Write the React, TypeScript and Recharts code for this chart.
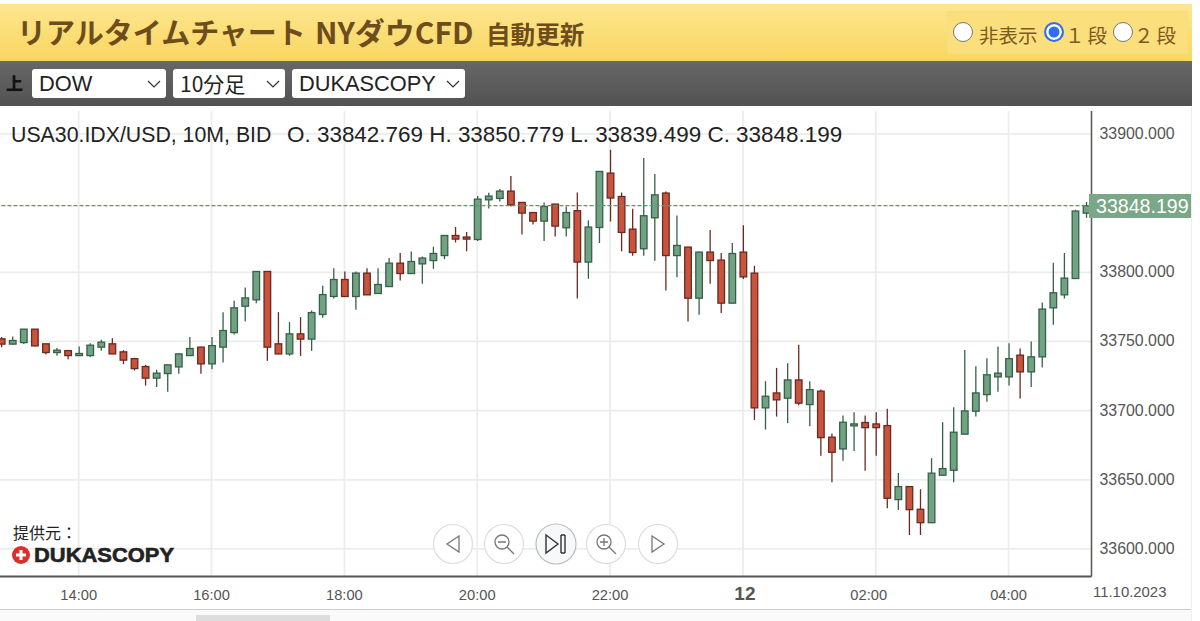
import React from "react";
import { ComposedChart, Bar, XAxis, YAxis, CartesianGrid, ReferenceLine } from "recharts";

const times = ["12:50","13:00","13:10","13:20","13:30","13:40","13:50","14:00","14:10","14:20","14:30","14:40","14:50","15:00","15:10","15:20","15:30","15:40","15:50","16:00","16:10","16:20","16:30","16:40","16:50","17:00","17:10","17:20","17:30","17:40","17:50","18:00","18:10","18:20","18:30","18:40","18:50","19:00","19:10","19:20","19:30","19:40","19:50","20:00","20:10","20:20","20:30","20:40","20:50","21:00","21:10","21:20","21:30","21:40","21:50","22:00","22:10","22:20","22:30","22:40","22:50","23:00","23:10","23:20","23:30","23:40","23:50","00:00","00:10","00:20","00:30","00:40","00:50","01:00","01:10","01:20","01:30","01:40","01:50","02:00","02:10","02:20","02:30","02:40","02:50","03:00","03:10","03:20","03:30","03:40","03:50","04:00","04:10","04:20","04:30","04:40","04:50","05:00","05:10"];
const opens = [33751.9,33748.1,33749.2,33758.9,33748.3,33742,33743.4,33739.8,33739.8,33745.9,33748.3,33742.5,33737.6,33731.9,33723.5,33726.8,33731.6,33739.8,33745.9,33733.8,33745.9,33756.4,33775.5,33780.1,33800.6,33748.3,33741,33755.5,33751.7,33769.5,33782.5,33794.8,33782.5,33799.4,33784.7,33789.7,33806.6,33799.1,33806.1,33808.5,33812.1,33826.6,33825.5,33823.7,33852.4,33853.4,33858.7,33850.5,33843.2,33837,33849.3,33832.2,33844.5,33807.4,33832.4,33871.7,33854.8,33831.2,33817,33839.4,33857.3,33812.1,33818.2,33781.3,33814.6,33808.8,33777.7,33814.6,33799.4,33702,33712.8,33709,33722.2,33704.4,33714.1,33680.8,33672.3,33689,33691.4,33690.4,33689.2,33635.7,33645.1,33628.7,33619,33653.3,33656.9,33683,33699.6,33711.6,33724.4,33724.4,33740.1,33728,33738.9,33774.3,33783.7,33795.5,33842.769];
const highs = [33753.3,33753.6,33759.1,33759.1,33748.3,33745.2,33743.6,33746.3,33748.8,33751.2,33752.4,33743.7,33738.2,33733.1,33729.5,33733.4,33741.4,33753.3,33746.1,33753.3,33771.2,33779.4,33789,33800.7,33800.7,33771.2,33764,33767.6,33772.4,33790.2,33803,33800.6,33800.6,33803,33803,33810.3,33813.9,33815,33811.4,33818.4,33826.8,33832.7,33829.1,33855.1,33857.5,33860.2,33869.6,33850.6,33843.4,33850.5,33849.5,33847.6,33857.7,33837.7,33873,33888.6,33857.7,33845.9,33882.6,33871,33858.4,33841.1,33818.4,33814.8,33830.5,33813.9,33821.1,33834.1,33804.7,33721.3,33730.9,33734.3,33747.6,33721.3,33715.2,33683.4,33696.4,33698.9,33696.4,33698.9,33701.3,33655,33645.2,33643.2,33665.6,33691.6,33702.5,33743.9,33732.1,33737.9,33746.3,33748.8,33744.9,33749.9,33778.1,33806.9,33813.9,33845.2,33850.779];
const lows = [33745.9,33747.6,33748.1,33746.6,33740.5,33739.6,33737.2,33739.6,33738.7,33743.2,33740.8,33733.6,33729,33718.1,33717,33713.6,33726.6,33739.6,33726.6,33730,33734.8,33755,33764.4,33777.7,33736,33740.8,33739.6,33739.6,33743.2,33767.1,33781,33782.3,33772.9,33783.5,33784.4,33789.5,33794.1,33798.9,33791.7,33802.5,33809.5,33821.5,33815.3,33822.6,33846.1,33851.2,33847.6,33827.3,33834.6,33822.6,33825.9,33825.9,33781,33795.3,33821.1,33836.7,33815.3,33811.9,33811.9,33808.3,33786.8,33796.5,33764.4,33769.3,33791.7,33770.5,33777.6,33795.1,33693.3,33686.3,33695.7,33690.9,33703.9,33688.7,33667.3,33648.2,33663.7,33670.9,33656.6,33667.3,33629.4,33628.2,33610.1,33610.1,33618.8,33653.2,33648.2,33682.8,33695.7,33706.5,33713.6,33718.1,33708.7,33717,33731.1,33762,33781,33795.3,33839.499];
const closes = [33748.1,33750.7,33758.9,33746.8,33742,33743.7,33739.8,33741.3,33747.3,33749.5,33741,33736.5,33730.4,33723.5,33727.1,33733.1,33741,33744.9,33733.8,33747,33757.9,33774.3,33781.5,33800.6,33745.9,33741,33755.5,33751.7,33770.9,33783.9,33794.8,33782.5,33799.4,33783.7,33791.2,33806.6,33799.1,33807.8,33810.3,33813.6,33826.6,33824,33824,33852.9,33855.1,33858.7,33848.8,33842.8,33837,33847.6,33833.4,33843.2,33807.4,33832.7,33872.9,33853.7,33828.8,33814.3,33840.9,33856,33812.1,33819.4,33781.3,33814.6,33808.5,33777.7,33813.6,33796.7,33702,33710.4,33707.8,33722.2,33705.4,33715.2,33680.5,33669.9,33691.6,33690.4,33687.7,33687.7,33636.7,33645.1,33628.4,33619,33654.8,33658.1,33684.4,33699.8,33712.8,33725.9,33727.1,33737.6,33728,33738.9,33773.4,33785.2,33795.8,33844.3,33848.199];
const yTicks = [33600, 33650, 33700, 33750, 33800, 33900];
const timeTicks = [7, 19, 31, 43, 55, 67, 79, 91];
const lastPrice = 33848.199;
const infoName = "USA30.IDX/USD, 10M, BID";
const infoOhlc = "O. 33842.769 H. 33850.779 L. 33839.499 C. 33848.199";
const selects = [
  { label: "DOW", left: 32, width: 134 },
  { label: "10分足", left: 173, width: 112 },
  { label: "DUKASCOPY", left: 292, width: 173 },
];

const data = times.map((t, i) => ({
  slot: i,
  time: t,
  open: opens[i],
  high: highs[i],
  low: lows[i],
  close: closes[i],
  range: [lows[i], highs[i]],
}));

const SANS = '"Liberation Sans", Arial, sans-serif';
const CJK = '"Noto Sans CJK JP", sans-serif';
const UP_FILL = "#71a383";
const UP_LINE = "#37604a";
const DOWN_FILL = "#c9543d";
const DOWN_LINE = "#6a2a22";

function Candle(props: any) {
  const { x, y, width, height, payload } = props;
  const h = Math.abs(height);
  const span = payload.high - payload.low;
  const ppu = h / span;
  const up = payload.close >= payload.open;
  const top = y + (payload.high - Math.max(payload.open, payload.close)) * ppu;
  const bottom = y + (payload.high - Math.min(payload.open, payload.close)) * ppu;
  const cx = x + width / 2;
  const line = up ? UP_LINE : DOWN_LINE;
  return (
    <g>
      <line x1={cx} x2={cx} y1={y} y2={y + h} stroke={line} strokeWidth={1.3} />
      <rect
        x={cx - 3.3}
        y={top}
        width={6.6}
        height={Math.max(bottom - top, 1)}
        fill={up ? UP_FILL : DOWN_FILL}
        stroke={line}
        strokeWidth={1.3}
      />
    </g>
  );
}

function TimeTick(props: any) {
  const { x, y, payload } = props;
  const label = times[payload.value];
  const isDay = label === "00:00";
  const nudge = label === "02:00" ? -7 : isDay ? 2 : 0;
  return (
    <text
      x={x + nudge}
      y={y + 15}
      textAnchor="middle"
      fontFamily={SANS}
      fontSize={isDay ? 19 : 14.7}
      fontWeight={isDay ? 700 : 400}
      fill="#555"
    >
      {isDay ? "12" : label}
    </text>
  );
}

function PriceTick(props: any) {
  const { x, y, payload } = props;
  return (
    <text x={x} y={y + 5} fontFamily={SANS} fontSize={15.9} fill="#555">
      {payload.value.toFixed(3)}
    </text>
  );
}

function Chevron({ right }: { right: number }) {
  return (
    <svg width={14} height={8} style={{ position: "absolute", right, top: 11 }}>
      <path d="M1 1 L7 7 L13 1" fill="none" stroke="#333" strokeWidth={1.2} />
    </svg>
  );
}

function NavButtons() {
  const c = { fill: "none", stroke: "#777", strokeWidth: 1.3 };
  return (
    <svg width={280} height={50} style={{ position: "absolute", left: 430, top: 519 }}>
      {[23, 74, 126, 176, 228].map((cx, i) => (
        <circle
          key={cx}
          cx={cx}
          cy={25}
          r={i === 2 ? 20 : 19.5}
          fill={i === 2 ? "#f7f8fa" : "#fff"}
          stroke={i === 2 ? "#bbb" : "#ddd"}
          strokeWidth={1.2}
        />
      ))}
      <path d="M29 17 L17 25 L29 33 Z" {...c} />
      <circle cx={72} cy={23} r={7} {...c} />
      <path d="M68 23 H76 M77 28 L84 35" {...c} />
      <path d="M116 16 L128 25 L116 34 Z M131 16 V34 M135 16 V34 M131 16 H135 M131 34 H135" fill="none" stroke="#333" strokeWidth={1.4} />
      <circle cx={174} cy={23} r={7} {...c} />
      <path d="M170 23 H178 M174 19 V27 M179 28 L186 35" {...c} />
      <path d="M222 17 L234 25 L222 33 Z" {...c} />
    </svg>
  );
}

export default function App() {
  return (
    <div style={{ position: "absolute", left: 0, top: 0, width: 1200, height: 621, overflow: "hidden", background: "#fff" }}>
      {/* title band */}
      <div style={{ position: "absolute", left: 0, top: 4, width: 1192, height: 57, background: "linear-gradient(#fde68f,#f8d660)" }} />
      <div style={{ position: "absolute", left: 17, top: 10, fontFamily: CJK, fontWeight: 700, fontSize: 29, color: "#6e4d1c", whiteSpace: "nowrap", lineHeight: "42px" }}>
        リアルタイムチャート
      </div>
      <div style={{ position: "absolute", left: 315, top: 10, fontFamily: CJK, fontWeight: 700, fontSize: 30, color: "#6e4d1c", whiteSpace: "nowrap", lineHeight: "42px" }}>
        NYダウCFD
      </div>
      <div style={{ position: "absolute", left: 486, top: 12, fontFamily: CJK, fontWeight: 700, fontSize: 24.6, color: "#6e4d1c", whiteSpace: "nowrap", lineHeight: "42px" }}>
        自動更新
      </div>
      <div style={{ position: "absolute", left: 947, top: 11, width: 241, height: 43, border: "1px solid #f6dc85", boxSizing: "border-box", background: "#fbdf7c" }} />
      {[["非表示", 953, 979, 0], ["１段", 1044, 1065, 3], ["２段", 1113, 1134, 3]].map(([t, cx, tx, ls], i) => (
        <React.Fragment key={String(t)}>
          <div
            style={{
              position: "absolute",
              left: Number(cx),
              top: 22,
              width: 20,
              height: 20,
              borderRadius: 10,
              boxSizing: "border-box",
              background: i === 1 ? "#2f6fed" : "#fff",
              border: i === 1 ? "2px solid #2f6fed" : "1.5px solid #777",
              boxShadow: i === 1 ? "inset 0 0 0 2.5px #fff" : undefined,
            }}
          />
          <div style={{ position: "absolute", left: Number(tx), top: 22, fontFamily: CJK, fontSize: 19.5, letterSpacing: Number(ls), color: "#7b5a22", whiteSpace: "nowrap", lineHeight: "26px" }}>
            {t}
          </div>
        </React.Fragment>
      ))}
      {/* tool band */}
      <div style={{ position: "absolute", left: 0, top: 61, width: 1192, height: 45, background: "linear-gradient(#676767,#525252)" }} />
      <div style={{ position: "absolute", left: 6, top: 71, fontFamily: CJK, fontWeight: 900, fontSize: 17, color: "#111", lineHeight: "24px" }}>上</div>
      {selects.map((s) => (
        <div
          key={s.label}
          style={{
            position: "absolute",
            left: s.left,
            top: 69,
            width: s.width,
            height: 29,
            background: "#fff",
            borderRadius: 3,
            fontFamily: s.label.includes("分") ? CJK : SANS,
            fontSize: s.label.includes("分") ? 21 : 21.8,
            lineHeight: "29px",
            paddingLeft: 7,
            boxSizing: "border-box",
            color: "#222",
            whiteSpace: "nowrap",
          }}
        >
          {s.label}
          <Chevron right={5} />
        </div>
      ))}
      {/* chart */}
      <div style={{ position: "absolute", left: 0, top: 110 }}>
        <ComposedChart width={1200} height={500} data={data} margin={{ top: 1, right: 0, bottom: 0, left: 0 }}>
          <CartesianGrid stroke="#ececec" strokeWidth={1.8} horizontalValues={yTicks} verticalValues={timeTicks} />
          <XAxis
            dataKey="slot"
            type="number"
            domain={[-0.109, 98.49]}
            allowDataOverflow
            ticks={timeTicks}
            interval={0}
            height={33.5}
            tick={<TimeTick />}
            tickLine={false}
            axisLine={{ stroke: "#555", strokeWidth: 2 }}
          />
          <YAxis
            orientation="right"
            type="number"
            domain={[33580.1, 33916.6]}
            allowDataOverflow
            ticks={yTicks}
            interval={0}
            width={108.5}
            tick={<PriceTick />}
            tickLine={false}
            axisLine={{ stroke: "#555", strokeWidth: 1.5 }}
          />
          <ReferenceLine y={lastPrice} stroke="#4f9d69" strokeWidth={1.1} strokeDasharray="4 2" />
          <Bar dataKey="range" barSize={8} isAnimationActive={false} shape={<Candle />} />
        </ComposedChart>
      </div>
      {/* overlays */}
      <div style={{ position: "absolute", left: 11, top: 124, fontFamily: SANS, fontSize: 21.3, color: "#222", whiteSpace: "pre", lineHeight: "22px" }}>{infoName}</div>
      <div style={{ position: "absolute", left: 287, top: 124, fontFamily: SANS, fontSize: 22.45, color: "#222", whiteSpace: "pre", lineHeight: "22px" }}>{infoOhlc}</div>
      <div style={{ position: "absolute", left: 1089, top: 194, width: 102, height: 24, background: "#7aa787", color: "#fff", fontFamily: SANS, fontSize: 19.6, lineHeight: "24px", paddingLeft: 7, boxSizing: "border-box", whiteSpace: "nowrap" }}>33848.199</div>
      <div style={{ position: "absolute", left: 13, top: 521, fontFamily: CJK, fontSize: 16, color: "#222", lineHeight: "22px" }}>提供元：</div>
      <svg width={170} height={24} style={{ position: "absolute", left: 10, top: 543 }}>
        <circle cx={11} cy={12} r={9} fill="#d9302c" />
        <path d="M11 7 V17 M6 12 H16" stroke="#fff" strokeWidth={3} />
        <text x={24} y={19} fontFamily={SANS} fontWeight={700} fontSize={21} textLength={140} lengthAdjust="spacingAndGlyphs" fill="#222" stroke="#222" strokeWidth={0.6}>DUKASCOPY</text>
      </svg>
      <NavButtons />
      <div style={{ position: "absolute", left: 1093, top: 584, fontFamily: SANS, fontSize: 14.9, color: "#555", lineHeight: "16px" }}>11.10.2023</div>
      {/* scroll bar */}
      <div style={{ position: "absolute", left: 0, top: 609, width: 1192, height: 12, borderTop: "1px solid #ccc", boxSizing: "border-box", background: "#fafafa" }} />
      <div style={{ position: "absolute", left: 196, top: 615, width: 134, height: 6, background: "#ddd" }} />
      <div style={{ position: "absolute", left: 1191, top: 106, width: 1, height: 515, background: "#eee" }} />
    </div>
  );
}
